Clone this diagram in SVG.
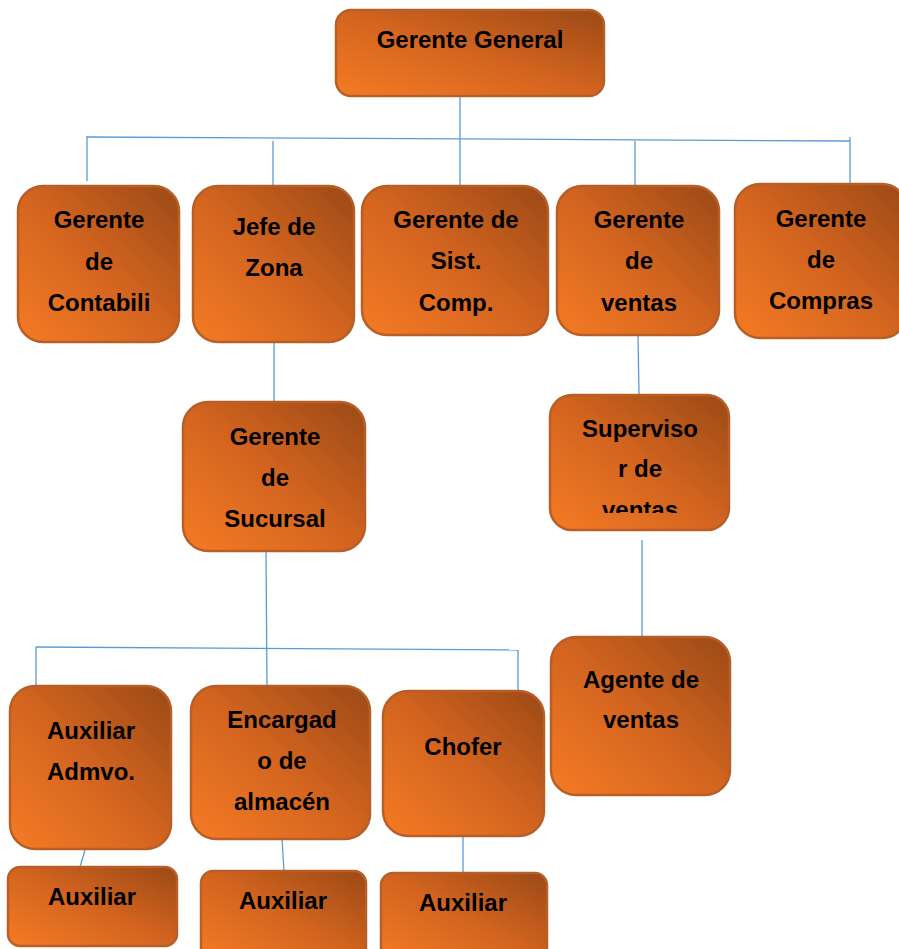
<svg xmlns="http://www.w3.org/2000/svg" width="899" height="949" viewBox="0 0 899 949">
<defs>
<linearGradient id="g" x1="0" y1="1" x2="1" y2="0">
<stop offset="0" stop-color="#F57B24"/>
<stop offset="0.5" stop-color="#D3641F"/>
<stop offset="1" stop-color="#9B4916"/>
</linearGradient>
<clipPath id="clipSup"><rect x="550" y="395" width="180" height="118"/></clipPath>
<style>
.box{fill:url(#g);stroke:#B85F28;stroke-width:2.5}
.t{font-family:"Liberation Sans",Arial,sans-serif;font-weight:bold;font-size:24px;fill:#000;text-anchor:middle}
.c{stroke:#5B9BD5;stroke-width:1.3;fill:none}
</style>
</defs>
<rect width="899" height="949" fill="#fff"/>
<g id="connectors">
<line class="c" x1="460" y1="97" x2="460" y2="186"/>
<line class="c" x1="87" y1="137" x2="850" y2="141"/>
<line class="c" x1="87" y1="136" x2="87" y2="181"/>
<line class="c" x1="273" y1="141" x2="273" y2="186"/>
<line class="c" x1="635" y1="141" x2="635" y2="186"/>
<line class="c" x1="850" y1="137" x2="850" y2="183"/>
<line class="c" x1="274" y1="342" x2="274" y2="402"/>
<line class="c" x1="638" y1="335" x2="639" y2="395"/>
<line class="c" x1="642" y1="540" x2="642" y2="637"/>
<line class="c" x1="266" y1="551" x2="267" y2="686"/>
<line class="c" x1="36" y1="647" x2="518" y2="650"/>
<line class="c" x1="36" y1="647" x2="36" y2="686"/>
<line class="c" x1="518" y1="650" x2="518" y2="690"/>
<line class="c" x1="85" y1="850" x2="80" y2="867"/>
<line class="c" x1="282" y1="839" x2="284" y2="871"/>
<line class="c" x1="463" y1="836" x2="463" y2="873"/>
</g>
<g id="gerente-general"><rect class="box" x="336" y="10" width="268" height="86" rx="15"/><text class="t" x="470" y="48">Gerente General</text></g>
<g id="contabilidad"><rect class="box" x="18" y="186" width="161" height="156" rx="25"/><text class="t" x="99" y="228">Gerente</text><text class="t" x="99" y="270">de</text><text class="t" x="99" y="311">Contabili</text></g>
<g id="jefe-zona"><rect class="box" x="193" y="186" width="161" height="156" rx="25"/><text class="t" x="274" y="235">Jefe de</text><text class="t" x="274" y="276">Zona</text></g>
<g id="sistemas"><rect class="box" x="362" y="186" width="186" height="149" rx="25"/><text class="t" x="456" y="228">Gerente de</text><text class="t" x="456" y="269">Sist.</text><text class="t" x="456" y="311">Comp.</text></g>
<g id="ventas"><rect class="box" x="557" y="186" width="162" height="149" rx="25"/><text class="t" x="639" y="228">Gerente</text><text class="t" x="639" y="269">de</text><text class="t" x="639" y="311">ventas</text></g>
<g id="compras"><rect class="box" x="735" y="184" width="172" height="154" rx="25"/><text class="t" x="821" y="227">Gerente</text><text class="t" x="821" y="268">de</text><text class="t" x="821" y="309">Compras</text></g>
<g id="sucursal"><rect class="box" x="183" y="402" width="182" height="149" rx="25"/><text class="t" x="275" y="445">Gerente</text><text class="t" x="275" y="486">de</text><text class="t" x="275" y="527">Sucursal</text></g>
<g id="supervisor"><rect class="box" x="550" y="395" width="179" height="135" rx="22"/><g clip-path="url(#clipSup)"><text class="t" x="640" y="437">Superviso</text><text class="t" x="640" y="477">r de</text><text class="t" x="640" y="518">ventas</text></g></g>
<g id="agente"><rect class="box" x="551" y="637" width="179" height="158" rx="25"/><text class="t" x="641" y="688">Agente de</text><text class="t" x="641" y="728">ventas</text></g>
<g id="aux-admvo"><rect class="box" x="10" y="686" width="161" height="163" rx="25"/><text class="t" x="91" y="739">Auxiliar</text><text class="t" x="91" y="780">Admvo.</text></g>
<g id="encargado"><rect class="box" x="191" y="686" width="179" height="153" rx="25"/><text class="t" x="282" y="728">Encargad</text><text class="t" x="282" y="769">o de</text><text class="t" x="282" y="810">almacén</text></g>
<g id="chofer"><rect class="box" x="383" y="691" width="161" height="145" rx="25"/><text class="t" x="463" y="755">Chofer</text></g>
<g id="auxiliar-1"><rect class="box" x="8" y="867" width="169" height="79" rx="12"/><text class="t" x="92" y="905">Auxiliar</text></g>
<g id="auxiliar-2"><rect class="box" x="201" y="871" width="165" height="90" rx="12"/><text class="t" x="283" y="909">Auxiliar</text></g>
<g id="auxiliar-3"><rect class="box" x="381" y="873" width="166" height="90" rx="12"/><text class="t" x="463" y="911">Auxiliar</text></g>
</svg>
